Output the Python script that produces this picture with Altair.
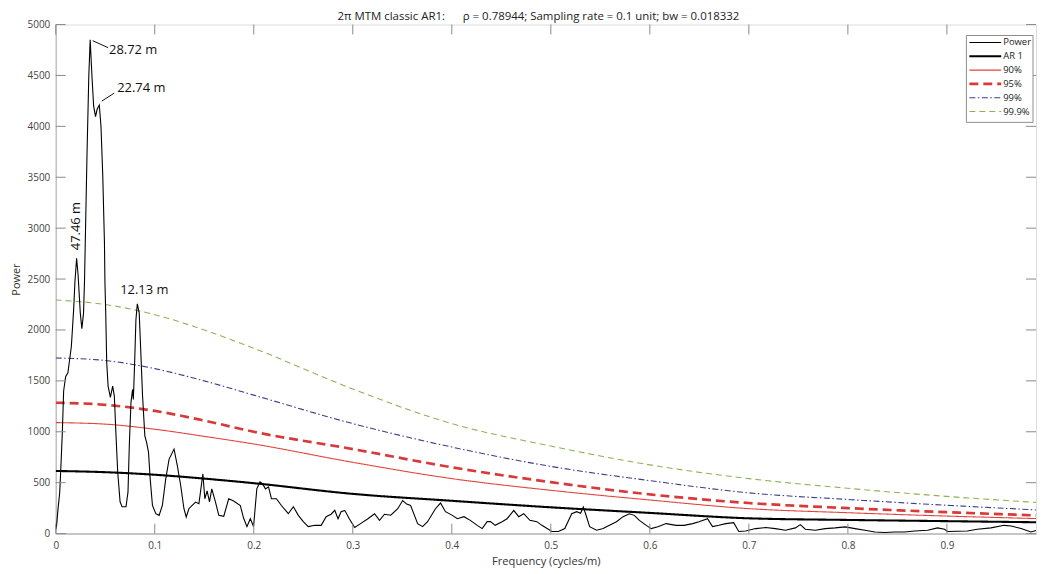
import altair as alt
import pandas as pd

FONT = "Open Sans"

# ---------------- data ----------------
freq = [0.0000, 0.0010, 0.0023, 0.0040, 0.0050, 0.0067, 0.0080, 0.0100, 0.0123, 0.0158,
        0.0181, 0.0194, 0.0211, 0.0226, 0.0248, 0.0264, 0.0281, 0.0291, 0.0315, 0.0334,
        0.0348, 0.0366, 0.0383, 0.0402, 0.0419, 0.0440, 0.0457, 0.0475, 0.0492, 0.0497,
        0.0505, 0.0515, 0.0529, 0.0552, 0.0575, 0.0592, 0.0609, 0.0626, 0.0650, 0.0670,
        0.0710, 0.0730, 0.0743, 0.0760, 0.0776, 0.0784, 0.0797, 0.0810, 0.0824, 0.0843,
        0.0857, 0.0877, 0.0900, 0.0917, 0.0937, 0.0954, 0.0977, 0.1011, 0.1044, 0.1077,
        0.1111, 0.1145, 0.1195, 0.1228, 0.1262, 0.1295, 0.1318, 0.1345, 0.1378, 0.1413,
        0.1446, 0.1486, 0.1506, 0.1529, 0.1553, 0.1576, 0.1613, 0.1647, 0.1697, 0.1747,
        0.1797, 0.1864, 0.1898, 0.1931, 0.1965, 0.1998, 0.2031, 0.2063, 0.2088, 0.2118,
        0.2149, 0.2179, 0.2229, 0.2279, 0.2349, 0.2400, 0.2450, 0.2500, 0.2550, 0.2617,
        0.2681, 0.2731, 0.2781, 0.2818, 0.2851, 0.2882, 0.2919, 0.2962, 0.3019, 0.3082,
        0.3153, 0.3220, 0.3270, 0.3320, 0.3384, 0.3454, 0.3504, 0.3544, 0.3584, 0.3655,
        0.3705, 0.3755, 0.3835, 0.3886, 0.3936, 0.4006, 0.4056, 0.4123, 0.4187, 0.4257,
        0.4307, 0.4357, 0.4391, 0.4438, 0.4508, 0.4558, 0.4626, 0.4676, 0.4726, 0.4789,
        0.4859, 0.4910, 0.5010, 0.5077, 0.5141, 0.5211, 0.5261, 0.5301, 0.5328, 0.5351,
        0.5392, 0.5462, 0.5529, 0.5592, 0.5663, 0.5730, 0.5793, 0.5843, 0.5894, 0.5964,
        0.6014, 0.6081, 0.6165, 0.6265, 0.6345, 0.6433, 0.6496, 0.6583, 0.6633, 0.6697,
        0.6767, 0.6847, 0.6898, 0.6968, 0.7068, 0.7169, 0.7269, 0.7369, 0.7470, 0.7520,
        0.7570, 0.7671, 0.7771, 0.7871, 0.7972, 0.8072, 0.8173, 0.8273, 0.8373, 0.8474,
        0.8574, 0.8675, 0.8805, 0.8906, 0.8976, 0.9006, 0.9106, 0.9207, 0.9307, 0.9445,
        0.9578, 0.9649, 0.9749, 0.9849, 0.9910]
power = [40, 90, 240, 400, 605, 1000, 1400, 1540, 1580, 1840,
         2200, 2474, 2705, 2540, 2168, 2012, 2168, 2490, 3682, 4492,
         4851, 4492, 4199, 4095, 4170, 4209, 4004, 3516, 2864, 2474,
         2168, 1680, 1449, 1338, 1449, 1351, 960, 605, 312, 264,
         264, 410, 862, 1289, 1416, 1318, 1680, 2100, 2256, 2168,
         1839, 1351, 960, 898, 800, 537, 276, 195, 179, 276,
         537, 732, 830, 667, 472, 244, 163, 244, 276, 309,
         293, 586, 342, 420, 312, 439, 312, 179, 170, 342,
         320, 276, 150, 68, 146, 70, 440, 508, 490, 439,
         459, 342, 342, 276, 195, 264, 179, 117, 68, 81,
         81, 166, 190, 228, 146, 215, 228, 150, 60, 100,
         146, 195, 130, 190, 180, 244, 325, 290, 276, 98,
         68, 117, 244, 300, 215, 179, 146, 166, 130, 81,
         49, 117, 117, 81, 117, 146, 228, 166, 195, 130,
         117, 81, 20, 20, 49, 195, 215, 200, 260, 195,
         68, 33, 49, 81, 117, 166, 195, 179, 130, 81,
         49, 68, 98, 81, 81, 98, 117, 146, 68, 81,
         98, 107, 20, 25, 49, 59, 49, 33, 56, 88,
         43, 33, 49, 56, 66, 49, 33, 16, 10, 16,
         16, 26, 33, 56, 43, 20, 23, 26, 43, 56,
         81, 75, 49, 16, 33]

thr_freq = [0, 0.05, 0.1, 0.15, 0.2, 0.3, 0.4, 0.5, 0.6, 0.7, 0.8, 0.9, 1.0]
ar1 = [615, 603, 578, 540, 495, 390, 322, 258, 203, 150, 134, 122, 110]
c90 = [1090, 1075, 1025, 955, 880, 700, 540, 425, 330, 245, 205, 172, 145]
c95 = [1285, 1265, 1205, 1110, 1000, 830, 651, 505, 385, 300, 250, 210, 175]
c99 = [1725, 1700, 1620, 1500, 1360, 1080, 850, 660, 520, 400, 335, 278, 228]
c999 = [2295, 2250, 2150, 2000, 1820, 1420, 1080, 860, 675, 540, 445, 365, 300]

series_names = ["Power", "AR 1", "90%", "95%", "99%", "99.9%"]
series_colors = ["#000000", "#000000", "#e2453e", "#d83a3a", "#3c3c8c", "#8db356"]
series_widths = [1.1, 2.1, 1.1, 2.7, 1.1, 1.1]
series_dashes = [[1, 0], [1, 0], [1, 0], [9, 5], [6, 2.5, 1.5, 2.5], [6, 4]]

peak_periods = [28.72, 22.74, 47.46, 12.13]
peak_powers = [4851, 4209, 2705, 2256]

x_ticks = [0, 0.1, 0.2, 0.3, 0.4, 0.5, 0.6, 0.7, 0.8, 0.9]
y_ticks = [0, 500, 1000, 1500, 2000, 2500, 3000, 3500, 4000, 4500, 5000]

title_text = ("2\u03c0 MTM classic AR1:" + "\u00a0" * 6 +
              "\u03c1 = 0.78944; Sampling rate = 0.1 unit; bw = 0.018332")

# ---------------- tables ----------------
W, H = 986, 512
XMAX = 0.99

df_power = pd.DataFrame({"f": freq, "p": power})
thr_tables = [pd.DataFrame({"f": thr_freq, "p": vals}) for vals in [ar1, c90, c95, c99, c999]]

df_peaks = pd.DataFrame({"period": peak_periods, "p": peak_powers})
df_peaks["f"] = 1.0 / df_peaks["period"]
df_peaks["label"] = df_peaks["period"].map(lambda v: f"{v:.2f} m")

px_per_f = W / XMAX
px_per_p = H / 5000.0
lead = df_peaks.iloc[:2].copy()
lead["f1"] = lead["f"] + 2.5 / px_per_f
lead["p1"] = lead["p"] + pd.Series([-1.0, 4.0], index=lead.index) / px_per_p
lead["f2"] = lead["f"] + pd.Series([18.0, 15.0], index=lead.index) / px_per_f
lead["p2"] = lead["p"] + pd.Series([-8.0, 12.0], index=lead.index) / px_per_p

xs = alt.Scale(domain=[0, XMAX], nice=False, zero=False)
ys = alt.Scale(domain=[0, 5000], nice=False)

xaxis = alt.Axis(values=x_ticks, format="~g", ticks=False, tickSize=0, grid=False,
                 labelPadding=7, labelFlush=False, labelFontSize=10, labelColor="#444",
                 labelFont=FONT, title="Frequency (cycles/m)", titleFont=FONT,
                 titleFontSize=11.2, titleFontWeight="normal", titleColor="#333",
                 titlePadding=5, domainColor="#b8b8b8", domainWidth=1.5)
yaxis = alt.Axis(values=y_ticks, format="d", ticks=False, tickSize=0, grid=False,
                 labelPadding=6, labelFlush=False, labelFontSize=10, labelColor="#444",
                 labelFont=FONT, title="Power", titleFont=FONT, titleFontSize=11,
                 titleFontWeight="normal", titleColor="#333", titlePadding=6,
                 domainColor="#b8b8b8", domainWidth=1.2)

def X(field):
    return alt.X(field, scale=xs, axis=xaxis)

def Y(field):
    return alt.Y(field, scale=ys, axis=yaxis)

layers = []
for i, tbl in enumerate(thr_tables, start=1):
    layers.append(
        alt.Chart(tbl).mark_line(interpolate="monotone", clip=True,
                                 color=series_colors[i], strokeWidth=series_widths[i],
                                 strokeDash=series_dashes[i]).encode(x=X("f:Q"), y=Y("p:Q"))
    )
layers.append(
    alt.Chart(df_power).mark_line(clip=True, color=series_colors[0],
                                  strokeWidth=series_widths[0]).encode(x=X("f:Q"), y=Y("p:Q"))
)

# inward MATLAB-style ticks on all four sides
tick_col = "#8a8a8a"
df_xt = pd.DataFrame({"f": x_ticks})
df_yt = pd.DataFrame({"p": y_ticks})
layers += [
    alt.Chart(df_xt).mark_rule(color=tick_col, strokeWidth=1).encode(
        x=X("f:Q"), y=alt.value(H), y2=alt.value(H - 10)),
    alt.Chart(df_xt).mark_rule(color=tick_col, strokeWidth=1).encode(
        x=X("f:Q"), y=alt.value(0), y2=alt.value(10)),
    alt.Chart(df_yt).mark_rule(color=tick_col, strokeWidth=1).encode(
        y=Y("p:Q"), x=alt.value(0), x2=alt.value(10)),
    alt.Chart(df_yt).mark_rule(color=tick_col, strokeWidth=1).encode(
        y=Y("p:Q"), x=alt.value(W), x2=alt.value(W - 10)),
]

# peak annotations
def peak_text(i, **kw):
    return alt.Chart(df_peaks.iloc[[i]]).mark_text(font=FONT, fontSize=13, color="#111", **kw).encode(
        x=X("f:Q"), y=Y("p:Q"), text="label:N")

layers += [
    peak_text(0, align="left", baseline="middle", dx=19, dy=10),
    peak_text(1, align="left", baseline="middle", dx=18, dy=-17),
    peak_text(2, align="left", baseline="middle", angle=270, dx=8, dy=-1),
    peak_text(3, align="center", baseline="middle", dx=7, dy=-14),
    alt.Chart(lead).mark_rule(color="#111", strokeWidth=1).encode(
        x=X("f1:Q"), y=Y("p1:Q"), x2="f2:Q", y2="p2:Q"),
]

# chart title, placed just above the axes box
layers.append(
    alt.Chart(pd.DataFrame({"t": [title_text]})).mark_text(
        font=FONT, fontSize=11.5, color="#222", align="center", baseline="middle"
    ).encode(x=alt.value(485.5), y=alt.value(-8), text="t:N")
)

# legend box (top-right, inside the axes)
LX0, LX1, LY0 = 916, 983, 11
ROW = 13.9
layers.append(
    alt.Chart(pd.DataFrame({"k": [0]})).mark_rect(fill="white", stroke="#8c8c8c", strokeWidth=1).encode(
        x=alt.value(LX0), x2=alt.value(LX1), y=alt.value(LY0), y2=alt.value(LY0 + 6 * ROW + 4))
)
for i, name in enumerate(series_names):
    yc = LY0 + 7 + i * ROW
    layers.append(
        alt.Chart(pd.DataFrame({"series": [name]})).mark_rule(
            color=series_colors[i], strokeWidth=series_widths[i], strokeDash=series_dashes[i]
        ).encode(x=alt.value(LX0 + 3), x2=alt.value(LX0 + 35), y=alt.value(yc))
    )
    layers.append(
        alt.Chart(pd.DataFrame({"series": [name]})).mark_text(
            font=FONT, fontSize=9.5, color="#222", align="left", baseline="middle"
        ).encode(x=alt.value(LX0 + 37), y=alt.value(yc), text="series:N")
    )

chart = alt.layer(*layers).properties(
    width=W, height=H,
    autosize=alt.AutoSizeParams(type="none"),
    padding={"left": 48, "top": 15, "right": 2, "bottom": 36},
).configure_view(stroke="#c0c0c0", strokeWidth=1).configure(background="white")

chart.save("out.html", embed_options={"renderer": "svg", "actions": False})
